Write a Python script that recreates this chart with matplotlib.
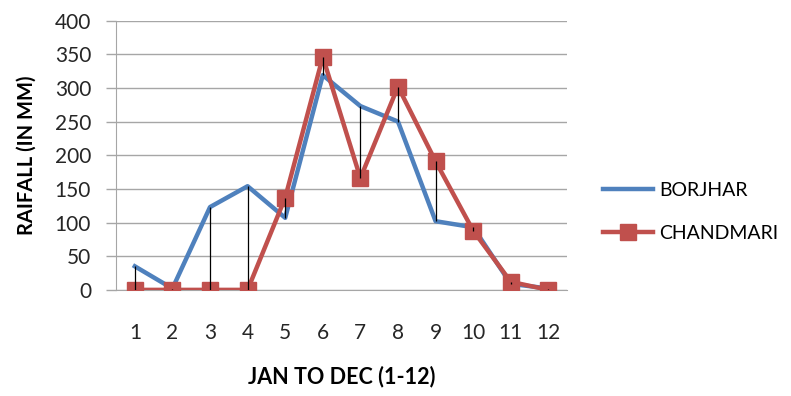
import matplotlib.pyplot as plt
import numpy as np

plt.rcParams['font.family'] = ['Lato', 'DejaVu Sans']

# Monthly rainfall (mm), January to December
months = list(range(1, 13))
borjhar = [35, 2, 123, 154, 107, 319, 273, 250, 102, 93, 9, 2]
chandmari = [0, 0, 0, 0, 137, 346, 166, 302, 191, 88, 12, 0]

fig = plt.figure(figsize=(7.91, 3.96), dpi=100)
ax = fig.add_axes([0.1467, 0.268, 0.5703, 0.68])

# grid lines every 50 mm
ax.set_ylim(0, 400)
ax.set_yticks(np.arange(0, 401, 50))
ax.yaxis.grid(True, color='#a6a6a6', linewidth=1.0)
ax.set_axisbelow(True)

# high-low lines joining the two stations
lo = np.minimum(borjhar, chandmari)
hi = np.maximum(borjhar, chandmari)
ax.vlines(months, lo, hi, color='black', linewidth=0.9, zorder=4)

ax.plot(months, borjhar, color='#4F81BD', linewidth=3.2, label='BORJHAR',
        solid_joinstyle='round', zorder=2)
ax.plot(months, chandmari, color='#C0504D', linewidth=3.2, marker='s',
        markersize=12, label='CHANDMARI', zorder=3)

ax.set_xlim(0.5, 12.5)
ax.set_xticks(months)
ax.tick_params(axis='x', length=0, pad=24, labelsize=15, colors='#262626')
ax.tick_params(axis='y', length=7, width=1.0, color='#a6a6a6', pad=11,
               labelsize=15, labelcolor='#262626')

for side in ['top', 'right']:
    ax.spines[side].set_visible(False)
ax.spines['left'].set_color('#a6a6a6')
ax.spines['bottom'].set_color('#a6a6a6')

ax.set_xlabel('JAN TO DEC (1-12)', fontsize=15.5, fontweight='bold', labelpad=16)
ax.set_ylabel('RAIFALL (IN MM)', fontsize=14.5, fontweight='bold', labelpad=13)

fig.legend(loc='center left', bbox_to_anchor=(0.74, 0.465), frameon=False,
           fontsize=14, handlelength=2.6, labelspacing=1.35, handletextpad=0.3)

fig.savefig('out.png', dpi=100)
